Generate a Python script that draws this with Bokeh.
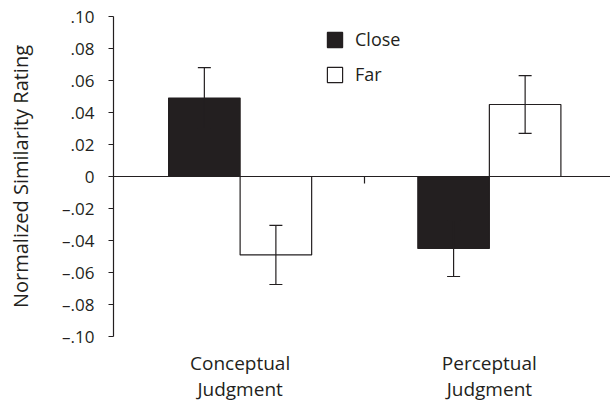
from bokeh.plotting import figure
from bokeh.models import (ColumnDataSource, FixedTicker, LinearAxis, Range1d, Whisker,
                          TeeHead, Legend, LegendItem, CustomJSTickFormatter)
from bokeh.transform import dodge
from bokeh.embed import file_html
from bokeh.resources import INLINE

# ---- data ----
categories = ["Conceptual\nJudgment", "Perceptual\nJudgment"]
series = ["Close", "Far"]
close_vals = [0.049, -0.045]
far_vals = [-0.049, 0.045]
close_err = [0.019, 0.0175]
far_err = [0.0185, 0.018]
y_ticks = [-0.10, -0.08, -0.06, -0.04, -0.02, 0.0, 0.02, 0.04, 0.06, 0.08, 0.10]
y_tick_labels = ["\u2013.10", "\u2013.08", "\u2013.06", "\u2013.04", "\u2013.02", "0",
                 ".02", ".04", ".06", ".08", ".10"]
y_label = "Normalized Similarity Rating"

INK = "#231f20"
FONT = "Open Sans"
BAR_W = 0.287
OFF = BAR_W / 2

group_x = [i + 1 for i in range(len(categories))]
mid_ticks = [(a + b) / 2 for a, b in zip(group_x[:-1], group_x[1:])]

src = ColumnDataSource(dict(
    x=group_x,
    close=close_vals,
    far=far_vals,
    close_lo=[v - e for v, e in zip(close_vals, close_err)],
    close_hi=[v + e for v, e in zip(close_vals, close_err)],
    far_lo=[v - e for v, e in zip(far_vals, far_err)],
    far_hi=[v + e for v, e in zip(far_vals, far_err)],
))

p = figure(width=610, height=404, output_backend="svg", toolbar_location=None,
           x_range=Range1d(0.492, 2.486), y_range=Range1d(-0.10, 0.10),
           min_border_left=113, min_border_right=0, min_border_top=16, min_border_bottom=65)
p.outline_line_color = None
p.grid.visible = False
p.background_fill_color = "white"
p.border_fill_color = "white"

r_close = p.vbar(x=dodge("x", -OFF), top="close", bottom=0, width=BAR_W, source=src,
                 fill_color=INK, line_color=INK, line_width=1.2)
r_far = p.vbar(x=dodge("x", OFF), top="far", bottom=0, width=BAR_W, source=src,
               fill_color="white", line_color=INK, line_width=1.2)

for base, lo, hi in [(dodge("x", -OFF), "close_lo", "close_hi"), (dodge("x", OFF), "far_lo", "far_hi")]:
    w = Whisker(source=src, base=base, lower=lo, upper=hi, line_color=INK, line_width=1.2,
                level="overlay",
                upper_head=TeeHead(size=13, line_color=INK, line_width=1.2),
                lower_head=TeeHead(size=13, line_color=INK, line_width=1.2))
    p.add_layout(w)

blank = CustomJSTickFormatter(code="return ''")

# zero line with the tick between the groups
zero_axis = LinearAxis(fixed_location=0, ticker=FixedTicker(ticks=mid_ticks), formatter=blank,
                       axis_line_color=INK, axis_line_width=1.2,
                       major_tick_line_color=INK, major_tick_line_width=1.2,
                       major_tick_out=7, major_tick_in=0,
                       minor_tick_line_color=None)
p.add_layout(zero_axis, "below")

# bottom category labels
xa = p.xaxis[0]
xa.ticker = FixedTicker(ticks=group_x)
xa.formatter = CustomJSTickFormatter(args=dict(vals=group_x, labs=categories), code="""
let i = 0, b = 1e9;
for (let k = 0; k < vals.length; k++) { const d = Math.abs(vals[k] - tick); if (d < b) { b = d; i = k } }
return labs[i];
""")
xa.axis_line_color = None
xa.major_tick_line_color = None
xa.minor_tick_line_color = None
xa.major_tick_out = 0
xa.major_tick_in = 0
xa.major_label_standoff = 13
xa.major_label_text_font = FONT
xa.major_label_text_font_size = "19px"
xa.major_label_text_color = INK
xa.major_label_text_line_height = 1.0

ya = p.yaxis[0]
ya.ticker = FixedTicker(ticks=y_ticks)
ya.formatter = CustomJSTickFormatter(args=dict(vals=y_ticks, labs=y_tick_labels), code="""
let i = 0, b = 1e9;
for (let k = 0; k < vals.length; k++) { const d = Math.abs(vals[k] - tick); if (d < b) { b = d; i = k } }
return labs[i];
""")
ya.axis_line_color = INK
ya.axis_line_width = 1.2
ya.major_tick_line_color = INK
ya.major_tick_line_width = 1.2
ya.major_tick_out = 5
ya.major_tick_in = 0
ya.minor_tick_line_color = None
ya.major_label_standoff = 14
ya.major_label_text_font = FONT
ya.major_label_text_font_size = "17px"
ya.major_label_text_color = INK
ya.axis_label = y_label
ya.axis_label_text_font = FONT
ya.axis_label_text_font_size = "20px"
ya.axis_label_text_font_style = "normal"
ya.axis_label_text_color = INK
ya.axis_label_standoff = 25

legend = Legend(items=[LegendItem(label=series[0], renderers=[r_close]),
                       LegendItem(label=series[1], renderers=[r_far])],
                location=(212, 250), orientation="vertical",
                glyph_width=19, glyph_height=19, label_height=19, spacing=11,
                label_standoff=11, padding=0, margin=0,
                border_line_color=None, background_fill_alpha=0,
                label_text_font=FONT, label_text_font_size="18px", label_text_color=INK)
p.add_layout(legend)

open("out.html", "w").write(file_html(p, INLINE))
